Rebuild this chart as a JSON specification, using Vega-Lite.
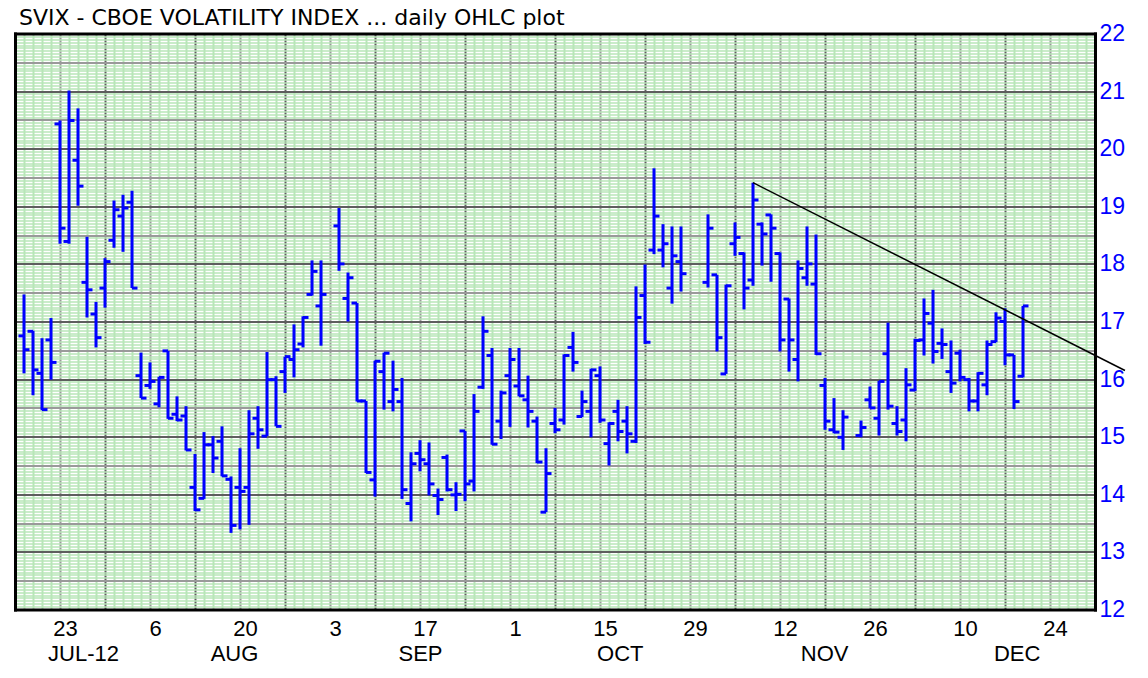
{
  "$schema": "https://vega.github.io/schema/vega-lite/v6.json",
  "autosize": {"type": "none"},
  "padding": {"left": 15, "top": 33.5, "right": 53, "bottom": 68.5},
  "width": 1080,
  "height": 576,
  "background": "white",
  "config": {"view": {"stroke": null}},
  "title": {
    "text": "SVIX - CBOE VOLATILITY INDEX ... daily OHLC plot",
    "anchor": "start",
    "frame": "group",
    "font": "DejaVu Sans",
    "fontSize": 22,
    "fontWeight": "normal",
    "color": "black",
    "baseline": "alphabetic",
    "offset": 5,
    "dx": 4,
    "dy": 29
  },
  "data": {
    "values": [
      {"date": "2012-07-17", "d": 0, "o": 16.75, "h": 17.47, "l": 16.10, "c": 16.51},
      {"date": "2012-07-18", "d": 1, "o": 16.83, "h": 16.84, "l": 15.72, "c": 16.16},
      {"date": "2012-07-19", "d": 2, "o": 16.10, "h": 16.71, "l": 15.46, "c": 15.47},
      {"date": "2012-07-20", "d": 3, "o": 16.68, "h": 17.06, "l": 15.99, "c": 16.29},
      {"date": "2012-07-23", "d": 4, "o": 20.43, "h": 20.49, "l": 18.35, "c": 18.62},
      {"date": "2012-07-24", "d": 5, "o": 18.39, "h": 21.01, "l": 18.35, "c": 20.49},
      {"date": "2012-07-25", "d": 6, "o": 19.80, "h": 20.70, "l": 19.01, "c": 19.35},
      {"date": "2012-07-26", "d": 7, "o": 17.68, "h": 18.47, "l": 17.07, "c": 17.55},
      {"date": "2012-07-27", "d": 8, "o": 17.13, "h": 17.34, "l": 16.55, "c": 16.72},
      {"date": "2012-07-30", "d": 9, "o": 17.58, "h": 18.10, "l": 17.24, "c": 18.04},
      {"date": "2012-07-31", "d": 10, "o": 18.41, "h": 19.10, "l": 18.28, "c": 18.94},
      {"date": "2012-08-01", "d": 11, "o": 18.83, "h": 19.20, "l": 18.21, "c": 18.97},
      {"date": "2012-08-02", "d": 12, "o": 19.07, "h": 19.27, "l": 17.58, "c": 17.58},
      {"date": "2012-08-03", "d": 13, "o": 16.06, "h": 16.46, "l": 15.67, "c": 15.67},
      {"date": "2012-08-06", "d": 14, "o": 15.89, "h": 16.29, "l": 15.83, "c": 15.96},
      {"date": "2012-08-07", "d": 15, "o": 15.57, "h": 16.04, "l": 15.51, "c": 16.03},
      {"date": "2012-08-08", "d": 16, "o": 16.49, "h": 16.49, "l": 15.31, "c": 15.32},
      {"date": "2012-08-09", "d": 17, "o": 15.39, "h": 15.70, "l": 15.27, "c": 15.29},
      {"date": "2012-08-10", "d": 18, "o": 15.36, "h": 15.53, "l": 14.76, "c": 14.77},
      {"date": "2012-08-13", "d": 19, "o": 14.12, "h": 14.70, "l": 13.71, "c": 13.73},
      {"date": "2012-08-14", "d": 20, "o": 13.93, "h": 15.08, "l": 13.92, "c": 14.86},
      {"date": "2012-08-15", "d": 21, "o": 14.86, "h": 15.01, "l": 14.37, "c": 14.63},
      {"date": "2012-08-16", "d": 22, "o": 14.92, "h": 15.18, "l": 14.31, "c": 14.32},
      {"date": "2012-08-17", "d": 23, "o": 14.26, "h": 14.31, "l": 13.33, "c": 13.46},
      {"date": "2012-08-20", "d": 24, "o": 14.12, "h": 14.80, "l": 13.39, "c": 14.05},
      {"date": "2012-08-21", "d": 25, "o": 14.12, "h": 15.46, "l": 13.47, "c": 15.05},
      {"date": "2012-08-22", "d": 26, "o": 15.32, "h": 15.53, "l": 14.79, "c": 15.12},
      {"date": "2012-08-23", "d": 27, "o": 15.01, "h": 16.47, "l": 15.01, "c": 15.99},
      {"date": "2012-08-24", "d": 28, "o": 15.99, "h": 16.05, "l": 15.18, "c": 15.18},
      {"date": "2012-08-27", "d": 29, "o": 16.13, "h": 16.39, "l": 15.76, "c": 16.39},
      {"date": "2012-08-28", "d": 30, "o": 16.34, "h": 16.95, "l": 16.03, "c": 16.51},
      {"date": "2012-08-29", "d": 31, "o": 16.61, "h": 17.09, "l": 16.55, "c": 17.07},
      {"date": "2012-08-30", "d": 32, "o": 17.47, "h": 18.06, "l": 17.45, "c": 17.87},
      {"date": "2012-08-31", "d": 33, "o": 17.27, "h": 18.06, "l": 16.58, "c": 17.47},
      {"date": "2012-09-04", "d": 35, "o": 18.66, "h": 18.97, "l": 17.88, "c": 18.00},
      {"date": "2012-09-05", "d": 36, "o": 17.40, "h": 17.85, "l": 17.00, "c": 17.76},
      {"date": "2012-09-06", "d": 37, "o": 17.32, "h": 17.32, "l": 15.61, "c": 15.62},
      {"date": "2012-09-07", "d": 38, "o": 15.62, "h": 15.62, "l": 14.37, "c": 14.38},
      {"date": "2012-09-10", "d": 39, "o": 14.25, "h": 16.32, "l": 13.96, "c": 16.31},
      {"date": "2012-09-11", "d": 40, "o": 16.13, "h": 16.46, "l": 15.47, "c": 16.45},
      {"date": "2012-09-12", "d": 41, "o": 15.61, "h": 16.32, "l": 15.44, "c": 15.82},
      {"date": "2012-09-13", "d": 42, "o": 15.61, "h": 16.02, "l": 13.92, "c": 14.08},
      {"date": "2012-09-14", "d": 43, "o": 13.84, "h": 14.73, "l": 13.53, "c": 14.53},
      {"date": "2012-09-17", "d": 44, "o": 14.71, "h": 14.94, "l": 14.40, "c": 14.60},
      {"date": "2012-09-18", "d": 45, "o": 14.53, "h": 14.90, "l": 13.98, "c": 14.18},
      {"date": "2012-09-19", "d": 46, "o": 13.98, "h": 14.10, "l": 13.64, "c": 13.91},
      {"date": "2012-09-20", "d": 47, "o": 14.64, "h": 14.69, "l": 14.05, "c": 14.08},
      {"date": "2012-09-21", "d": 48, "o": 13.99, "h": 14.21, "l": 13.71, "c": 14.00},
      {"date": "2012-09-24", "d": 49, "o": 15.10, "h": 15.10, "l": 13.88, "c": 14.18},
      {"date": "2012-09-25", "d": 50, "o": 14.23, "h": 15.74, "l": 14.05, "c": 15.44},
      {"date": "2012-09-26", "d": 51, "o": 15.86, "h": 17.09, "l": 15.83, "c": 16.83},
      {"date": "2012-09-27", "d": 52, "o": 16.41, "h": 16.54, "l": 14.86, "c": 14.87},
      {"date": "2012-09-28", "d": 53, "o": 15.27, "h": 15.80, "l": 14.96, "c": 15.76},
      {"date": "2012-10-01", "d": 54, "o": 16.06, "h": 16.54, "l": 15.17, "c": 16.34},
      {"date": "2012-10-02", "d": 55, "o": 15.88, "h": 16.54, "l": 15.70, "c": 15.71},
      {"date": "2012-10-03", "d": 56, "o": 15.64, "h": 16.06, "l": 15.16, "c": 15.44},
      {"date": "2012-10-04", "d": 57, "o": 15.27, "h": 15.35, "l": 14.54, "c": 14.56},
      {"date": "2012-10-05", "d": 58, "o": 13.69, "h": 14.80, "l": 13.69, "c": 14.36},
      {"date": "2012-10-08", "d": 59, "o": 15.23, "h": 15.50, "l": 15.06, "c": 15.12},
      {"date": "2012-10-09", "d": 60, "o": 15.29, "h": 16.43, "l": 15.21, "c": 16.41},
      {"date": "2012-10-10", "d": 61, "o": 16.55, "h": 16.82, "l": 16.13, "c": 16.29},
      {"date": "2012-10-11", "d": 62, "o": 15.35, "h": 15.80, "l": 15.34, "c": 15.61},
      {"date": "2012-10-12", "d": 63, "o": 15.44, "h": 16.18, "l": 14.99, "c": 16.16},
      {"date": "2012-10-15", "d": 64, "o": 16.06, "h": 16.22, "l": 15.24, "c": 15.29},
      {"date": "2012-10-16", "d": 65, "o": 14.88, "h": 15.25, "l": 14.50, "c": 15.23},
      {"date": "2012-10-17", "d": 66, "o": 15.44, "h": 15.64, "l": 14.92, "c": 15.09},
      {"date": "2012-10-18", "d": 67, "o": 15.27, "h": 15.53, "l": 14.71, "c": 15.05},
      {"date": "2012-10-19", "d": 68, "o": 14.92, "h": 17.61, "l": 14.89, "c": 17.07},
      {"date": "2012-10-22", "d": 69, "o": 17.45, "h": 17.99, "l": 16.61, "c": 16.64},
      {"date": "2012-10-23", "d": 70, "o": 18.24, "h": 19.66, "l": 18.17, "c": 18.83},
      {"date": "2012-10-24", "d": 71, "o": 18.24, "h": 18.69, "l": 17.94, "c": 18.35},
      {"date": "2012-10-25", "d": 72, "o": 17.58, "h": 18.65, "l": 17.31, "c": 18.14},
      {"date": "2012-10-26", "d": 73, "o": 18.04, "h": 18.65, "l": 17.52, "c": 17.83},
      {"date": "2012-10-31", "d": 76, "o": 17.68, "h": 18.86, "l": 17.59, "c": 18.62},
      {"date": "2012-11-01", "d": 77, "o": 17.81, "h": 17.81, "l": 16.48, "c": 16.72},
      {"date": "2012-11-02", "d": 78, "o": 16.09, "h": 17.64, "l": 16.09, "c": 17.62},
      {"date": "2012-11-05", "d": 79, "o": 18.35, "h": 18.72, "l": 18.14, "c": 18.46},
      {"date": "2012-11-06", "d": 80, "o": 18.18, "h": 18.20, "l": 17.21, "c": 17.58},
      {"date": "2012-11-07", "d": 81, "o": 17.72, "h": 19.41, "l": 17.62, "c": 19.11},
      {"date": "2012-11-08", "d": 82, "o": 18.69, "h": 18.72, "l": 17.97, "c": 18.52},
      {"date": "2012-11-09", "d": 83, "o": 18.85, "h": 18.86, "l": 17.69, "c": 18.62},
      {"date": "2012-11-12", "d": 84, "o": 18.18, "h": 18.20, "l": 16.48, "c": 16.68},
      {"date": "2012-11-13", "d": 85, "o": 17.39, "h": 17.40, "l": 16.13, "c": 16.68},
      {"date": "2012-11-14", "d": 86, "o": 16.34, "h": 18.06, "l": 15.96, "c": 17.92},
      {"date": "2012-11-15", "d": 87, "o": 17.76, "h": 18.65, "l": 17.62, "c": 18.00},
      {"date": "2012-11-16", "d": 88, "o": 17.65, "h": 18.51, "l": 16.42, "c": 16.44},
      {"date": "2012-11-19", "d": 89, "o": 15.89, "h": 16.02, "l": 15.12, "c": 15.27},
      {"date": "2012-11-20", "d": 90, "o": 15.12, "h": 15.67, "l": 15.06, "c": 15.08},
      {"date": "2012-11-21", "d": 91, "o": 14.99, "h": 15.46, "l": 14.77, "c": 15.34},
      {"date": "2012-11-23", "d": 93, "o": 15.02, "h": 15.28, "l": 14.99, "c": 15.16},
      {"date": "2012-11-26", "d": 94, "o": 15.64, "h": 15.87, "l": 15.49, "c": 15.50},
      {"date": "2012-11-27", "d": 95, "o": 15.32, "h": 15.97, "l": 15.02, "c": 15.96},
      {"date": "2012-11-28", "d": 96, "o": 16.44, "h": 16.98, "l": 15.47, "c": 15.53},
      {"date": "2012-11-29", "d": 97, "o": 15.23, "h": 15.53, "l": 15.02, "c": 15.09},
      {"date": "2012-11-30", "d": 98, "o": 15.29, "h": 16.19, "l": 14.92, "c": 15.90},
      {"date": "2012-12-03", "d": 99, "o": 15.81, "h": 16.70, "l": 15.79, "c": 16.67},
      {"date": "2012-12-04", "d": 100, "o": 16.68, "h": 17.40, "l": 16.41, "c": 17.14},
      {"date": "2012-12-05", "d": 101, "o": 16.97, "h": 17.55, "l": 16.27, "c": 16.48},
      {"date": "2012-12-06", "d": 102, "o": 16.62, "h": 16.88, "l": 16.35, "c": 16.60},
      {"date": "2012-12-07", "d": 103, "o": 16.13, "h": 16.67, "l": 15.76, "c": 15.93},
      {"date": "2012-12-10", "d": 104, "o": 16.45, "h": 16.51, "l": 15.96, "c": 16.03},
      {"date": "2012-12-11", "d": 105, "o": 15.99, "h": 16.02, "l": 15.44, "c": 15.62},
      {"date": "2012-12-12", "d": 106, "o": 15.62, "h": 16.12, "l": 15.44, "c": 16.10},
      {"date": "2012-12-13", "d": 107, "o": 15.90, "h": 16.67, "l": 15.72, "c": 16.60},
      {"date": "2012-12-14", "d": 108, "o": 16.65, "h": 17.16, "l": 16.64, "c": 17.06},
      {"date": "2012-12-17", "d": 109, "o": 17.00, "h": 17.23, "l": 16.24, "c": 16.42},
      {"date": "2012-12-18", "d": 110, "o": 16.42, "h": 16.42, "l": 15.48, "c": 15.61},
      {"date": "2012-12-19", "d": 111, "o": 16.05, "h": 17.27, "l": 16.03, "c": 17.27}
    ]
  },
  "layer": [
    {
      "mark": {"type": "rule", "color": "#0000ff", "strokeWidth": 3, "strokeCap": "butt"},
      "encoding": {
        "x": {
          "field": "d", "type": "quantitative",
          "scale": {"domain": [-1, 119], "nice": false, "zero": false},
          "axis": {
            "orient": "bottom", "title": null, "tickCount": 120,
            "grid": true, "gridWidth": 2, "gridCap": "butt",
            "gridColor": {"condition": [{"test": "(datum.value + 1) % 10 == 5", "value": "#9a9a9a"}, {"test": "(datum.value + 1) % 5 == 0", "value": "#5e5e5e"}], "value": "#b8e6b8"},
            "domain": false, "ticks": false, "tickSize": 0,
            "labelExpr": "datum.value == 4 ? '23' : datum.value == 14 ? '6' : datum.value == 24 ? '20' : datum.value == 34 ? '3' : datum.value == 44 ? '17' : datum.value == 54 ? '1' : datum.value == 64 ? '15' : datum.value == 74 ? '29' : datum.value == 84 ? '12' : datum.value == 94 ? '26' : datum.value == 104 ? '10' : datum.value == 114 ? '24' : ''",
            "labelFont": "Liberation Sans", "labelFontSize": 22, "labelColor": "black",
            "labelPadding": 9, "labelOffset": 5,
            "labelOverlap": false, "labelBound": false, "labelFlush": false,
            "zindex": 0
          }
        },
        "y": {
          "field": "l", "type": "quantitative",
          "scale": {"domain": [12, 22], "nice": false, "zero": false},
          "axis": {
            "orient": "right", "title": null, "tickCount": 200,
            "grid": true, "gridCap": "butt",
            "gridColor": {"condition": [{"test": "abs(datum.value - round(datum.value)) < 0.001", "value": "#5e5e5e"}, {"test": "abs(datum.value * 2 - round(datum.value * 2)) < 0.001", "value": "#9a9a9a"}], "value": "#b8e6b8"},
            "gridWidth": {"condition": {"test": "abs(datum.value * 2 - round(datum.value * 2)) < 0.001", "value": 2}, "value": 1.5},
            "domain": false, "ticks": false, "tickSize": 0,
            "labelExpr": "abs(datum.value - round(datum.value)) < 0.001 ? '' + round(datum.value) : ''",
            "labelFont": "Liberation Sans", "labelFontSize": 23, "labelColor": "#0000ff",
            "labelPadding": 4,
            "labelOverlap": false, "labelBound": false, "labelFlush": false,
            "zindex": 0
          }
        },
        "y2": {"field": "h"}
      }
    },
    {
      "mark": {"type": "rule", "color": "#0000ff", "strokeWidth": 3, "strokeCap": "butt", "xOffset": -5.5, "x2Offset": 0},
      "encoding": {
        "x": {
          "field": "d", "type": "quantitative",
          "scale": {"domain": [-1, 119], "nice": false, "zero": false},
          "axis": {
            "orient": "bottom", "title": null, "grid": false,
            "values": [6.56, 23.33, 44, 66.2, 88.9, 110.3],
            "labelExpr": "datum.value < 15 ? 'JUL-12' : datum.value < 35 ? 'AUG' : datum.value < 55 ? 'SEP' : datum.value < 78 ? 'OCT' : datum.value < 100 ? 'NOV' : 'DEC'",
            "labelFont": "Liberation Sans", "labelFontSize": 22, "labelColor": "black",
            "labelPadding": 34, "labelOverlap": false, "labelBound": false, "labelFlush": false,
            "ticks": false, "tickSize": 0,
            "domain": true, "domainColor": "black", "domainWidth": 3, "domainCap": "square",
            "zindex": 1
          }
        },
        "x2": {"field": "d"},
        "y": {
          "field": "o", "type": "quantitative",
          "scale": {"domain": [12, 22], "nice": false, "zero": false},
          "axis": {
            "orient": "left", "title": null, "grid": false, "labels": false, "ticks": false,
            "domain": true, "domainColor": "black", "domainWidth": 3, "domainCap": "square",
            "zindex": 1
          }
        }
      }
    },
    {
      "mark": {"type": "rule", "color": "#0000ff", "strokeWidth": 3, "strokeCap": "butt", "xOffset": 0, "x2Offset": 5.5},
      "encoding": {
        "x": {
          "field": "d", "type": "quantitative",
          "scale": {"domain": [-1, 119], "nice": false, "zero": false},
          "axis": {
            "orient": "top", "title": null, "grid": false, "labels": false, "ticks": false,
            "domain": true, "domainColor": "black", "domainWidth": 3, "domainCap": "square",
            "zindex": 1
          }
        },
        "x2": {"field": "d"},
        "y": {
          "field": "c", "type": "quantitative",
          "scale": {"domain": [12, 22], "nice": false, "zero": false},
          "axis": {
            "orient": "right", "title": null, "grid": false, "labels": false, "ticks": false,
            "domain": true, "domainColor": "black", "domainWidth": 3, "domainCap": "square",
            "zindex": 1
          }
        }
      }
    },
    {
      "data": {"values": [{"t": 81, "v": 19.41}, {"t": 122.33, "v": 16.15}]},
      "mark": {"type": "line", "color": "black", "strokeWidth": 1.5, "clip": false},
      "encoding": {
        "x": {"field": "t", "type": "quantitative", "scale": {"domain": [-1, 119], "nice": false, "zero": false}, "axis": null},
        "y": {"field": "v", "type": "quantitative", "scale": {"domain": [12, 22], "nice": false, "zero": false}, "axis": null}
      }
    }
  ],
  "resolve": {"axis": {"x": "independent", "y": "independent"}}
}
